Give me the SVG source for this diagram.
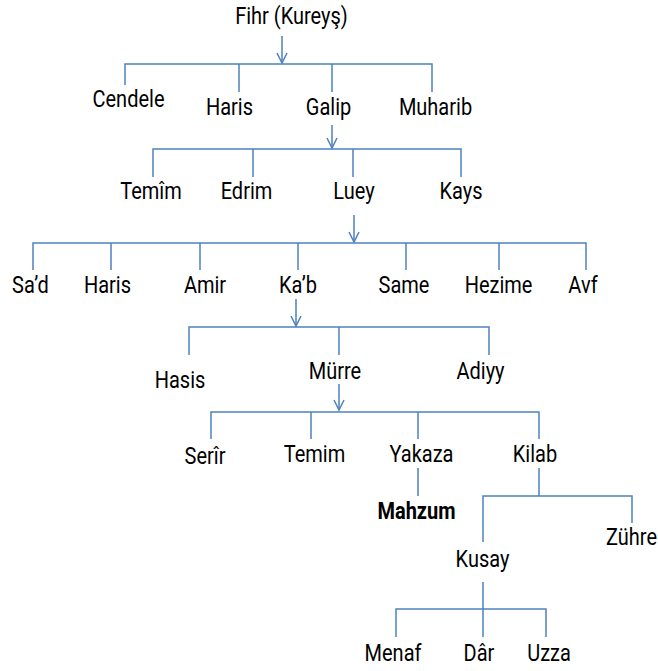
<svg xmlns="http://www.w3.org/2000/svg" width="658" height="671" viewBox="0 0 658 671">
<style>
.c{fill:none;stroke:#4F81BD;stroke-width:1.5}
text{font-family:Roboto,"Liberation Sans",sans-serif;font-size:20px;fill:#000;text-anchor:middle}
.b{font-weight:bold}
</style>
<defs>
<marker id="ah" viewBox="-12 -7 14 14" markerWidth="14" markerHeight="14" refX="0" refY="0" orient="auto" markerUnits="userSpaceOnUse">
<path d="M-10,-5 L0,0 L-10,5" fill="none" stroke="#4F81BD" stroke-width="1.5"/>
</marker>
</defs>
<rect width="658" height="671" fill="#fff"/>
<g id="connectors">
<path class="c" d="M282,36 V63" marker-end="url(#ah)"/>
<path class="c" d="M125,85 V64 H432 V92 M239,64 V92 M332,64 V92"/>
<path class="c" d="M332,125 V148" marker-end="url(#ah)"/>
<path class="c" d="M153,177 V149 H461 V177 M253,149 V177 M353,149 V177"/>
<path class="c" d="M354,215 V242" marker-end="url(#ah)"/>
<path class="c" d="M33,270 V243 H586 V270 M111,243 V270 M200,243 V270 M298,243 V270 M406,243 V270 M499,243 V270"/>
<path class="c" d="M296,299 V326" marker-end="url(#ah)"/>
<path class="c" d="M189,355 V327 H489 V355 M339,327 V355"/>
<path class="c" d="M339,384 V410" marker-end="url(#ah)"/>
<path class="c" d="M211,439 V412 H539 V439 M311,412 V439 M418,412 V439"/>
<path class="c" d="M418,468 V496"/>
<path class="c" d="M539,468 V496 M483,542 V496 H632 V523"/>
<path class="c" d="M483,582 V637 M396,637 V609 H546 V637"/>
</g>
<g id="n-fihr"><text transform="translate(291.5,24) scale(1,1.18)">Fihr (Kureyş)</text></g>
<g id="n-cendele"><text transform="translate(128.5,107) scale(1,1.18)">Cendele</text></g>
<g id="n-haris1"><text transform="translate(229.5,115) scale(1,1.18)">Haris</text></g>
<g id="n-galip"><text transform="translate(328.5,115) scale(1,1.18)">Galip</text></g>
<g id="n-muharib"><text transform="translate(435.5,115) scale(1,1.18)">Muharib</text></g>
<g id="n-temim1"><text transform="translate(151,199) scale(1,1.18)">Temîm</text></g>
<g id="n-edrim"><text transform="translate(246.5,199) scale(1,1.18)">Edrim</text></g>
<g id="n-luey"><text transform="translate(354,199) scale(1,1.18)">Luey</text></g>
<g id="n-kays"><text transform="translate(461,199) scale(1,1.18)">Kays</text></g>
<g id="n-sad"><text transform="translate(30.5,293) scale(1,1.18)">Sa’d</text></g>
<g id="n-haris2"><text transform="translate(107.5,293) scale(1,1.18)">Haris</text></g>
<g id="n-amir"><text transform="translate(205,293) scale(1,1.18)">Amir</text></g>
<g id="n-kab"><text transform="translate(298,293) scale(1,1.18)">Ka’b</text></g>
<g id="n-same"><text transform="translate(404,293) scale(1,1.18)">Same</text></g>
<g id="n-hezime"><text transform="translate(498.5,293) scale(1,1.18)">Hezime</text></g>
<g id="n-avf"><text transform="translate(583,293) scale(1,1.18)">Avf</text></g>
<g id="n-hasis"><text transform="translate(180,388) scale(1,1.18)">Hasis</text></g>
<g id="n-murre"><text transform="translate(335,379) scale(1,1.18)">Mürre</text></g>
<g id="n-adiyy"><text transform="translate(480.5,379) scale(1,1.18)">Adiyy</text></g>
<g id="n-serir"><text transform="translate(205,464) scale(1,1.18)">Serîr</text></g>
<g id="n-temim2"><text transform="translate(314.5,462) scale(1,1.18)">Temim</text></g>
<g id="n-yakaza"><text transform="translate(421.5,462) scale(1,1.18)">Yakaza</text></g>
<g id="n-kilab"><text transform="translate(535,462) scale(1,1.18)">Kilab</text></g>
<g id="n-mahzum"><text class="b" transform="translate(416.5,519) scale(1,1.18)">Mahzum</text></g>
<g id="n-zuhre"><text transform="translate(631.5,545) scale(1,1.18)">Zühre</text></g>
<g id="n-kusay"><text transform="translate(482.5,567) scale(1,1.18)">Kusay</text></g>
<g id="n-menaf"><text transform="translate(393,661) scale(1,1.18)">Menaf</text></g>
<g id="n-dar"><text transform="translate(479,661) scale(1,1.18)">Dâr</text></g>
<g id="n-uzza"><text transform="translate(549,661) scale(1,1.18)">Uzza</text></g>
</svg>
